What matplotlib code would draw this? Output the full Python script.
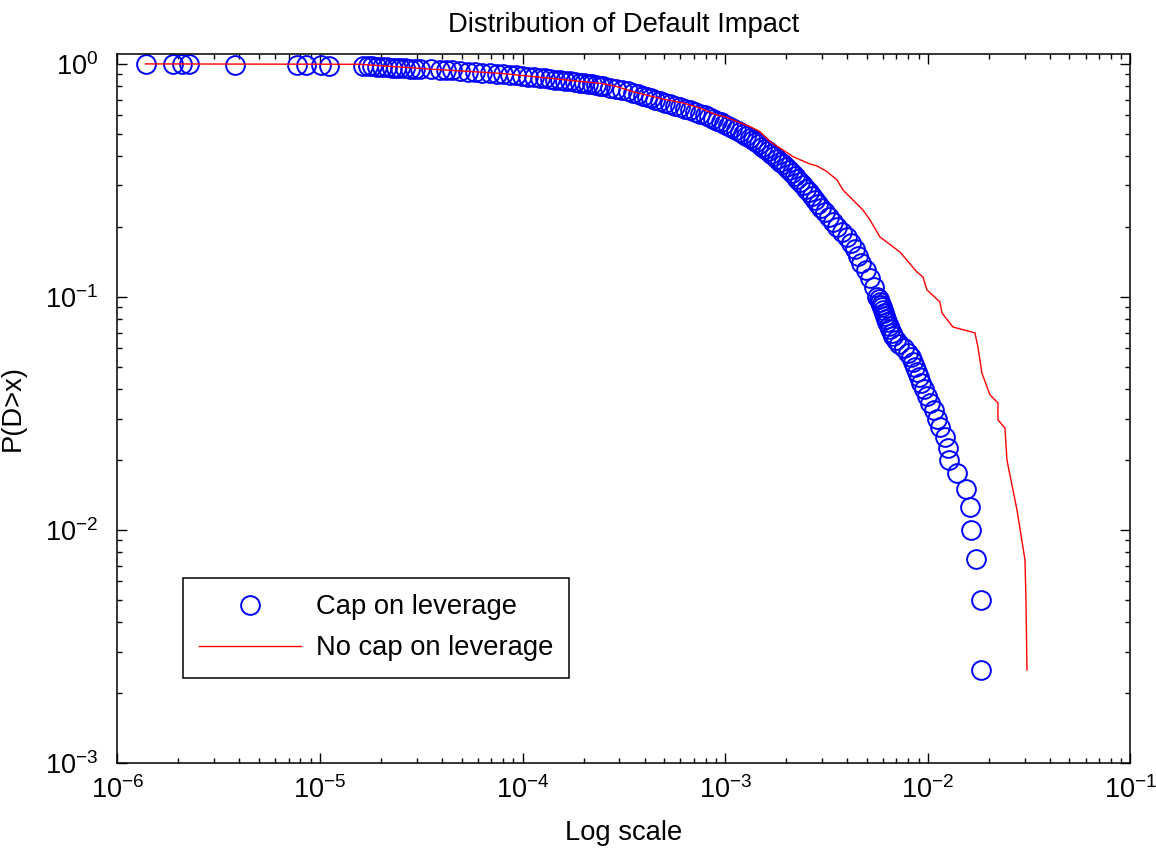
import numpy as np
import matplotlib
matplotlib.use("Agg")
import matplotlib.pyplot as plt
from matplotlib.ticker import NullFormatter

plt.rcParams['font.family'] = ['Liberation Sans', 'DejaVu Sans']
plt.rcParams['mathtext.fontset'] = 'custom'
plt.rcParams['mathtext.rm'] = 'Liberation Sans'

# Cap on leverage: P(D>x)
cap_p = [1.0, 0.9975, 0.995, 0.9925, 0.99, 0.9875, 0.985, 0.9825, 0.98,
         0.9775, 0.975, 0.9725, 0.97, 0.9675, 0.965, 0.9625, 0.96, 0.9575,
         0.955, 0.9525, 0.95, 0.9475, 0.945, 0.9425, 0.94, 0.935, 0.93, 0.925,
         0.92, 0.915, 0.91, 0.905, 0.90, 0.895, 0.89, 0.885, 0.88, 0.875, 0.87,
         0.865, 0.86, 0.855, 0.85, 0.845, 0.84, 0.835, 0.83, 0.825, 0.82, 0.815,
         0.81, 0.805, 0.80, 0.79, 0.78, 0.77, 0.76, 0.75, 0.74, 0.73, 0.72, 0.71,
         0.70, 0.69, 0.68, 0.67, 0.66, 0.65, 0.64, 0.63, 0.62, 0.61, 0.60, 0.59,
         0.58, 0.57, 0.56, 0.55, 0.54, 0.53, 0.52, 0.51, 0.50, 0.49, 0.48, 0.47,
         0.46, 0.45, 0.44, 0.43, 0.42, 0.41, 0.40, 0.39, 0.38, 0.37, 0.36, 0.35,
         0.34, 0.33, 0.32, 0.31, 0.30, 0.29, 0.28, 0.27, 0.26, 0.25, 0.24, 0.23,
         0.22, 0.21, 0.20, 0.19, 0.18, 0.17, 0.16, 0.15, 0.14, 0.13, 0.12, 0.11,
         0.10, 0.0975, 0.095, 0.0925, 0.09, 0.0875, 0.085, 0.0825, 0.08, 0.0775,
         0.075, 0.0725, 0.07, 0.0675, 0.065, 0.0625, 0.06, 0.0575, 0.055, 0.0525,
         0.05, 0.0475, 0.045, 0.0425, 0.04, 0.0375, 0.035, 0.0325, 0.03, 0.0275,
         0.025, 0.0225, 0.02, 0.0175, 0.015, 0.0125, 0.01, 0.0075, 0.005, 0.0025]
cap_x = [1.377e-6, 1.873e-6, 2.075e-6, 2.262e-6, 3.79e-6, 7.66e-6, 8.49e-6, 1.014e-5, 1.11e-5,
         1.63e-5, 1.72e-5, 1.80e-5, 1.91e-5, 2.02e-5, 2.14e-5, 2.26e-5, 2.37e-5, 2.48e-5,
         2.62e-5, 2.78e-5, 2.94e-5, 3.11e-5, 3.53e-5, 3.91e-5, 4.18e-5, 4.48e-5, 4.90e-5, 5.37e-5,
         5.82e-5, 6.30e-5, 6.90e-5, 7.47e-5, 7.99e-5, 8.66e-5, 9.27e-5, 9.92e-5, 1.062e-4, 1.137e-4, 1.217e-4,
         1.288e-4, 1.364e-4, 1.443e-4, 1.528e-4, 1.617e-4, 1.712e-4, 1.812e-4, 1.918e-4, 2.007e-4, 2.10e-4, 2.20e-4,
         2.30e-4, 2.41e-4, 2.49e-4, 2.70e-4, 2.89e-4, 3.09e-4, 3.31e-4, 3.50e-4, 3.71e-4, 3.93e-4, 4.11e-4, 4.30e-4,
         4.50e-4, 4.76e-4, 5.04e-4, 5.33e-4, 5.65e-4, 5.98e-4, 6.33e-4, 6.70e-4, 7.09e-4, 7.50e-4, 7.94e-4, 8.31e-4,
         8.70e-4, 9.10e-4, 9.52e-4, 9.85e-4, 1.031e-3, 1.079e-3, 1.129e-3, 1.182e-3, 1.223e-3, 1.265e-3, 1.324e-3, 1.370e-3,
         1.418e-3, 1.467e-3, 1.518e-3, 1.570e-3, 1.625e-3, 1.681e-3, 1.740e-3, 1.800e-3, 1.862e-3, 1.927e-3, 1.994e-3, 2.063e-3,
         2.135e-3, 2.208e-3, 2.259e-3, 2.337e-3, 2.418e-3, 2.502e-3, 2.589e-3, 2.679e-3, 2.772e-3, 2.868e-3, 2.968e-3, 3.106e-3,
         3.250e-3, 3.401e-3, 3.559e-3, 3.767e-3, 3.988e-3, 4.173e-3, 4.367e-3, 4.519e-3, 4.676e-3, 4.950e-3, 5.180e-3, 5.420e-3,
         5.609e-3, 5.737e-3, 5.803e-3, 5.869e-3, 5.936e-3, 6.004e-3, 6.073e-3, 6.142e-3, 6.212e-3, 6.283e-3,
         6.427e-3, 6.501e-3, 6.650e-3, 6.726e-3, 6.960e-3, 7.202e-3, 7.621e-3, 7.975e-3, 8.254e-3, 8.444e-3,
         8.638e-3, 8.837e-3, 9.040e-3, 9.247e-3, 9.566e-3, 9.897e-3, 1.024e-2, 1.072e-2, 1.109e-2, 1.147e-2,
         1.214e-2, 1.257e-2, 1.271e-2, 1.392e-2, 1.542e-2, 1.614e-2, 1.632e-2, 1.728e-2, 1.829e-2, 1.829e-2]

# No cap on leverage: vertices of the red line
nocap_x = [1.377e-6, 1.574e-5, 3.61e-5, 7.73e-5, 1.364e-4, 1.984e-4, 2.41e-4, 2.92e-4, 3.50e-4,
           4.25e-4, 5.16e-4, 6.18e-4, 7.50e-4, 9.10e-4, 1.0e-3, 1.091e-3, 1.324e-3, 1.483e-3,
           1.662e-3, 1.927e-3, 2.159e-3, 2.619e-3, 2.836e-3, 3.177e-3, 3.559e-3, 3.811e-3, 4.27e-3,
           4.78e-3, 5.18e-3, 5.803e-3, 7.28e-3, 8.837e-3, 9.46e-3, 9.897e-3, 1.147e-2, 1.174e-2,
           1.330e-2, 1.708e-2, 1.767e-2, 1.849e-2, 2.025e-2, 2.218e-2, 2.218e-2, 2.402e-2, 2.457e-2,
           2.754e-2, 3.016e-2, 3.05e-2, 3.085e-2]
nocap_p = [0.9975, 0.994, 0.946, 0.909, 0.866, 0.837, 0.824, 0.797, 0.758,
           0.727, 0.699, 0.678, 0.645, 0.602, 0.592, 0.573, 0.537, 0.511,
           0.463, 0.426, 0.399, 0.371, 0.364, 0.344, 0.317, 0.287, 0.260,
           0.2355, 0.2134, 0.1804, 0.1555, 0.1276, 0.1215, 0.1069, 0.0949, 0.0851,
           0.0741, 0.0699, 0.0608, 0.0470, 0.0379, 0.0350, 0.0296, 0.0273, 0.0199,
           0.01215, 0.00741, 0.00499, 0.0025]

fig = plt.figure(figsize=(11.56, 8.48), dpi=100)
ax = fig.add_axes([0.1016, 0.1006, 0.8763, 0.8357])

ax.plot(cap_x, cap_p, 'o', mfc='none', mec='b', ms=13.5, mew=1.4, label='Cap on leverage')
ax.plot(nocap_x, nocap_p, '-', color='r', lw=1.0, label='No cap on leverage')

ax.set_xscale('log')
ax.set_yscale('log')
ax.set_xlim(1e-6, 1e-1)
ax.set_ylim(1e-3, 1.1)
ax.xaxis.set_minor_formatter(NullFormatter())
ax.yaxis.set_minor_formatter(NullFormatter())

ax.tick_params(which='both', direction='in', top=True, right=True, width=1.0)
ax.tick_params(which='major', length=7.2)
ax.tick_params(which='minor', length=3.6)
ax.tick_params(axis='x', labelsize=19.5, pad=10)
ax.tick_params(axis='y', labelsize=19.5, pad=14)
for s in ax.spines.values():
    s.set_linewidth(1.1)

ax.set_title('Distribution of Default Impact', fontsize=19.7, pad=16)
ax.set_xlabel('Log scale', fontsize=19.7, labelpad=11)
ax.set_ylabel('P(D>x)', fontsize=19.7, labelpad=14)

leg = ax.legend(loc='upper left', bbox_to_anchor=(0.0647, 0.2606), borderaxespad=0,
                fontsize=19.7, fancybox=False, framealpha=1, edgecolor='k',
                handlelength=3.7, handletextpad=0.55, borderpad=0.6, labelspacing=0.55)
leg.get_frame().set_linewidth(1.1)

fig.savefig('out.png', dpi=100, facecolor='white')
